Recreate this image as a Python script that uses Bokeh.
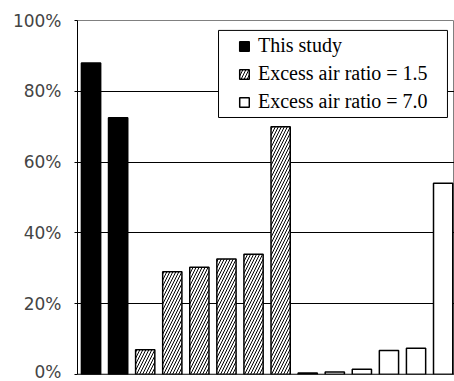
import numpy as np
from bokeh.plotting import figure
from bokeh.models import (Range1d, FixedTicker, PrintfTickFormatter, Span,
                          Legend, LegendItem, BoxAnnotation)
from bokeh.embed import file_html
from bokeh.resources import INLINE

# ---- data (percent) ----
this_study = [88.0, 72.5]
ear_15 = [7.0, 29.0, 30.3, 32.6, 34.0, 70.0]
ear_70 = [0.4, 0.7, 1.5, 6.8, 7.4, 54.0]
y_ticks = [0, 20, 40, 60, 80, 100]
legend_labels = ["This study", "Excess air ratio = 1.5", "Excess air ratio = 7.0"]

n1, n2, n3 = len(this_study), len(ear_15), len(ear_70)
x_all = np.arange(1, n1 + n2 + n3 + 1)
x1 = x_all[:n1]
x2 = x_all[n1:n1 + n2]
x3 = x_all[n1 + n2:]

p = figure(width=454, height=381, output_backend="svg", toolbar_location=None,
           x_range=Range1d(0.5, 14.42), y_range=Range1d(0, 100),
           x_axis_location=None, min_border_left=77, min_border_right=0,
           min_border_top=20, min_border_bottom=7)
p.background_fill_color = "white"
p.border_fill_color = "white"
p.outline_line_color = "#808080"
p.outline_line_width = 1

p.xgrid.visible = False
p.ygrid.ticker = FixedTicker(ticks=y_ticks[1:-1])
p.ygrid.grid_line_color = "black"
p.ygrid.grid_line_width = 1

ax = p.yaxis[0]
ax.ticker = FixedTicker(ticks=y_ticks)
ax.formatter = PrintfTickFormatter(format="%d%%")
ax.axis_line_color = "black"
ax.axis_line_width = 1
ax.major_tick_out = 3
ax.major_tick_in = 0
ax.minor_tick_line_color = None
ax.major_tick_line_color = "black"
ax.major_label_standoff = 13
ax.major_label_text_font = "DejaVu Sans"
ax.major_label_text_font_size = "17px"
ax.major_label_text_color = "#444444"

bw = 0.71
r1 = p.vbar(x=x1, top=this_study, width=bw, fill_color="black", line_color="black",
            line_width=1.5)
r2 = p.vbar(x=x2, top=ear_15, width=bw, fill_color="white", line_color="black",
            line_width=1.5, hatch_pattern="/", hatch_color="black", hatch_scale=6,
            hatch_weight=1)
r3 = p.vbar(x=x3, top=ear_70, width=bw, fill_color="white", line_color="black",
            line_width=1.5)

p.add_layout(Span(location=0, dimension="width", line_color="black", line_width=1.5))

box = BoxAnnotation(left=5.707, right=14.16, top=97.2, bottom=72.6,
                    fill_color="white", fill_alpha=1, line_color="black",
                    line_width=1, line_alpha=1)
p.add_layout(box)

legend = Legend(items=[LegendItem(label=legend_labels[0], renderers=[r1]),
                       LegendItem(label=legend_labels[1], renderers=[r2]),
                       LegendItem(label=legend_labels[2], renderers=[r3])],
                location=(161, 261), margin=0, padding=0,
                border_line_color=None, background_fill_alpha=0,
                glyph_width=12, glyph_height=12, label_height=20, spacing=5,
                label_standoff=8, label_text_font="Liberation Serif",
                label_text_font_size="20px", label_text_color="black")
p.add_layout(legend)

open("out.html", "w").write(file_html(p, INLINE))
